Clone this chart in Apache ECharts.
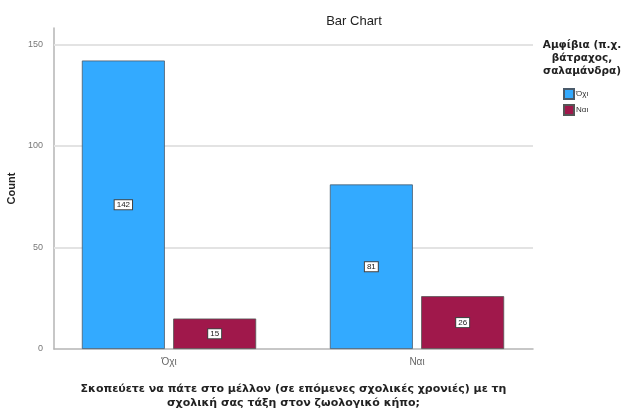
<!DOCTYPE html>
<html><head><meta charset="utf-8">
<script src="https://cdn.jsdelivr.net/npm/echarts@6/dist/echarts.min.js"></script>
<style>html,body{margin:0;padding:0;background:#fff}#c{width:625px;height:414px}</style>
</head><body><div id="c"></div>
<script>
const categories = ['Όχι', 'Ναι'];
const seriesNames = ['Όχι', 'Ναι'];
const valuesNo = [142, 81];
const valuesYes = [15, 26];
const yTicks = [50, 100, 150];

const F = '"Liberation Sans", Arial, sans-serif';
const FB = '"DejaVu Sans", sans-serif';
const chart = echarts.init(document.getElementById('c'));
const lbl = {
  show: true, position: 'inside', color: '#222', fontSize: 8, fontFamily: F,
  backgroundColor: '#fff', borderColor: '#444', borderWidth: 1, padding: [1, 2, 0, 2]
};
const yBase = { type: 'value', min: 0, max: 158, interval: 50 };
chart.setOption({
  animation: false,
  title: [
    { text: 'Bar Chart', left: 349, top: 10, textAlign: 'center',
      textStyle: { fontSize: 13, fontWeight: 'normal', color: '#222', fontFamily: F } },
    { text: 'Αμφίβια (π.χ.\nβάτραχος,\nσαλαμάνδρα)', left: 577, top: 34, textAlign: 'center',
      textStyle: { fontSize: 10.5, fontWeight: 'bold', color: '#222', fontFamily: FB, lineHeight: 13 } }
  ],
  legend: {
    orient: 'vertical', left: 558, top: 83, itemWidth: 10, itemHeight: 10, itemGap: 4,
    icon: 'rect', data: seriesNames,
    textStyle: { fontSize: 8, color: '#333', fontFamily: F, padding: [0, 0, 0, -3] }
  },
  grid: [
    { left: 54, right: 92, top: 28, bottom: 65, outerBoundsMode: 'none', containLabel: false },
    { left: 45, right: 84, top: 28, bottom: 65, outerBoundsMode: 'none', containLabel: false }
  ],
  xAxis: [
    { gridIndex: 0, type: 'category', data: categories,
      name: 'Σκοπεύετε να πάτε στο μέλλον (σε επόμενες σχολικές χρονιές) με τη\nσχολική σας τάξη στον ζωολογικό κήπο;',
      nameLocation: 'middle', nameGap: 33,
      nameTextStyle: { fontSize: 11, fontWeight: 'bold', color: '#222', fontFamily: FB, lineHeight: 14 },
      axisLine: { lineStyle: { color: '#b5b5b5', width: 1.5 } },
      axisTick: { show: false }, axisLabel: { show: false } },
    { gridIndex: 1, type: 'category', data: categories,
      axisLine: { show: false }, axisTick: { show: false },
      axisLabel: { fontSize: 10, color: '#666', fontFamily: F, margin: 8 } }
  ],
  yAxis: [
    Object.assign({ gridIndex: 0,
      name: 'Count', nameLocation: 'middle', nameGap: 30, nameRotate: 90,
      nameTextStyle: { fontSize: 11, fontWeight: 'bold', color: '#222', fontFamily: F },
      axisLine: { show: true, lineStyle: { color: '#b5b5b5', width: 1.5 } },
      axisTick: { show: false }, splitLine: { show: false },
      axisLabel: { fontSize: 9, color: '#777', fontFamily: F, margin: 11,
        formatter: v => (v % 50 === 0 ? String(v) : '') } }, yBase),
    Object.assign({ gridIndex: 1, show: false, splitLine: { show: false } }, yBase)
  ],
  series: [
    { type: 'line', xAxisIndex: 0, yAxisIndex: 0, data: [], silent: true, z: 1,
      markLine: { silent: true, z: 1, symbol: 'none', label: { show: false },
        lineStyle: { color: '#e3e3e3', width: 2, type: 'solid' },
        data: yTicks.map(v => ({ yAxis: v })) } },
    { name: seriesNames[0], type: 'bar', xAxisIndex: 1, yAxisIndex: 1, data: valuesNo, z: 3,
      barWidth: 83, barGap: '10%',
      itemStyle: { color: '#33aaff', borderColor: '#4a5a6a', borderWidth: 0.8 },
      label: lbl },
    { name: seriesNames[1], type: 'bar', xAxisIndex: 1, yAxisIndex: 1, data: valuesYes, z: 3,
      barWidth: 83, barGap: '10%',
      itemStyle: { color: '#a0184b', borderColor: '#555', borderWidth: 0.8 },
      label: lbl }
  ]
});
</script></body></html>
